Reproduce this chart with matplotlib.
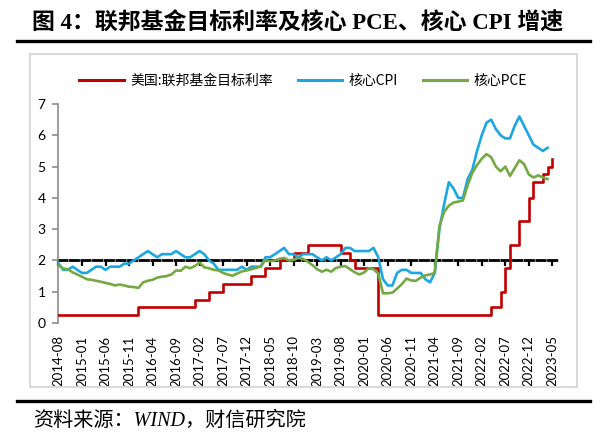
import matplotlib
matplotlib.use('Agg')
import matplotlib.pyplot as plt
import numpy as np
import pandas as pd
from matplotlib.patches import Rectangle
from matplotlib.lines import Line2D

# ---------------- data ----------------
months = pd.period_range('2014-08', '2023-05', freq='M').strftime('%Y-%m').tolist()

tick_labels = ['2014-08', '2015-01', '2015-06', '2015-11', '2016-04', '2016-09',
               '2017-02', '2017-07', '2017-12', '2018-05', '2018-10', '2019-03',
               '2019-08', '2020-01', '2020-06', '2020-11', '2021-04', '2021-09',
               '2022-02', '2022-07', '2022-12', '2023-05']

# 美国:联邦基金目标利率 (upper bound, %)
fed_rate = [0.25, 0.25, 0.25, 0.25, 0.25,
            0.25, 0.25, 0.25, 0.25, 0.25, 0.25, 0.25, 0.25, 0.25, 0.25, 0.25, 0.25,
            0.5, 0.5, 0.5, 0.5, 0.5, 0.5, 0.5, 0.5, 0.5, 0.5, 0.5, 0.5,
            0.75, 0.75, 0.75, 1.0, 1.0, 1.0, 1.25, 1.25, 1.25, 1.25, 1.25, 1.25,
            1.5, 1.5, 1.5, 1.75, 1.75, 1.75, 2.0, 2.0, 2.0, 2.25, 2.25, 2.25,
            2.5, 2.5, 2.5, 2.5, 2.5, 2.5, 2.5, 2.25, 2.25, 2.0, 1.75, 1.75,
            1.75, 1.75, 1.75, 0.25, 0.25, 0.25, 0.25, 0.25, 0.25, 0.25, 0.25, 0.25,
            0.25, 0.25, 0.25, 0.25, 0.25, 0.25, 0.25, 0.25, 0.25, 0.25, 0.25, 0.25,
            0.25, 0.25, 0.25, 0.5, 0.5, 1.0, 1.75, 2.5, 2.5, 3.25, 3.25, 4.0,
            4.5, 4.5, 4.75, 5.0, 5.25]

# 核心CPI (%)
core_cpi = [1.9, 1.7, 1.7, 1.8, 1.7,
            1.6, 1.6, 1.7, 1.8, 1.8, 1.7, 1.8, 1.8, 1.8, 1.9, 1.9, 2.0,
            2.1, 2.2, 2.3, 2.2, 2.1, 2.2, 2.2, 2.2, 2.3, 2.2, 2.1, 2.1,
            2.2, 2.3, 2.2, 2.0, 1.9, 1.7, 1.7, 1.7, 1.7, 1.7, 1.8, 1.7,
            1.8, 1.8, 1.8, 2.1, 2.1, 2.2, 2.3, 2.4, 2.2, 2.2, 2.1, 2.2,
            2.2, 2.2, 2.1, 2.0, 2.1, 2.0, 2.1, 2.2, 2.4, 2.4, 2.3, 2.3,
            2.3, 2.3, 2.4, 2.1, 1.4, 1.2, 1.2, 1.6, 1.7, 1.7, 1.6, 1.6,
            1.6, 1.4, 1.3, 1.6, 3.0, 3.8, 4.5, 4.3, 4.0, 4.0, 4.6, 4.9,
            5.5, 6.0, 6.4, 6.5, 6.2, 6.0, 5.9, 5.9, 6.3, 6.6, 6.3, 6.0,
            5.7, 5.6, 5.5, 5.6]

# 核心PCE (%)
core_pce = [1.85, 1.74, 1.72, 1.62, 1.55,
            1.48, 1.40, 1.38, 1.35, 1.32, 1.28, 1.25, 1.20, 1.23, 1.20, 1.16, 1.15,
            1.12, 1.30, 1.35, 1.38, 1.45, 1.48, 1.50, 1.55, 1.68, 1.67, 1.80, 1.75,
            1.82, 1.93, 1.78, 1.75, 1.70, 1.68, 1.60, 1.55, 1.51, 1.58, 1.65, 1.68,
            1.72, 1.76, 1.80, 2.02, 1.97, 2.00, 2.05, 2.08, 2.00, 2.02, 2.08, 2.05,
            1.96, 1.85, 1.72, 1.64, 1.70, 1.64, 1.76, 1.80, 1.82, 1.72, 1.62, 1.55,
            1.62, 1.75, 1.72, 1.58, 0.95, 0.95, 0.97, 1.10, 1.24, 1.42, 1.36, 1.35,
            1.45, 1.52, 1.55, 1.60, 3.10, 3.55, 3.75, 3.85, 3.88, 3.92, 4.40, 4.80,
            5.05, 5.25, 5.40, 5.30, 5.00, 4.85, 5.00, 4.70, 4.95, 5.20, 5.08, 4.75,
            4.65, 4.72, 4.65, 4.60]

labels = ['美国:联邦基金目标利率', '核心CPI', '核心PCE']
colors = ['#C00000', '#1CA6E2', '#74A944']
title = '图 4：联邦基金目标利率及核心 PCE、核心 CPI 增速'
source = '资料来源：WIND，财信研究院'

# ---------------- figure ----------------
W, H = 607, 443
fig = plt.figure(figsize=(W / 100, H / 100), dpi=100)
fig.patch.set_facecolor('white')

x = np.arange(len(months))
ax = fig.add_axes([58 / W, 120 / H, 499 / W, 219 / H])

lw = 1.9
ax.plot(x, fed_rate, drawstyle='steps-post', color=colors[0], lw=lw, zorder=3)
ax.plot(x[:len(core_cpi)], core_cpi, color=colors[1], lw=lw, zorder=4)
ax.plot(x[:len(core_pce)], core_pce, color=colors[2], lw=lw, zorder=5)

ax.set_xlim(-0.1, 106)
ax.set_ylim(0, 7)

for s in ['top', 'right', 'bottom']:
    ax.spines[s].set_visible(False)
ax.spines['left'].set_color('#8C8C8C')
ax.spines['left'].set_linewidth(1.2)

num_font = ['Lato', 'DejaVu Sans']
ax.set_yticks(range(0, 8))
ax.set_yticklabels([str(v) for v in range(0, 8)], fontfamily=num_font, fontsize=10)
ax.tick_params(axis='y', direction='out', length=4, width=1.2, color='#8C8C8C', pad=5)

ax.set_xticks(x[::5])
ax.set_xticklabels(tick_labels, rotation=90, fontfamily=num_font, fontsize=9.5)
ax.tick_params(axis='x', length=0, pad=9)

# horizontal axis crossing at 2 (dashed, with tick marks)
sec = ax.secondary_xaxis(2 / 7)
sec.set_xticks(x[::5])
sec.tick_params(axis='x', direction='out', length=4, width=1.6, color='black',
                labelbottom=False, labeltop=False)
sec.spines['bottom'].set_linestyle((0, (3, 1.2)))
sec.spines['bottom'].set_linewidth(2)
sec.spines['bottom'].set_color('black')
sec.spines['top'].set_visible(False)

# legend
handles = [Line2D([], [], color=c, lw=2.2) for c in colors]
fig.legend(handles, labels, loc='center', bbox_to_anchor=(303 / W, 1 - 81 / H),
           ncol=3, frameon=False, prop={'family': ['Noto Sans CJK SC'], 'size': 10},
           handlelength=3.2, handletextpad=0.45, columnspacing=1.8)

# chart frame
fig.patches.append(Rectangle((30 / W, 1 - 387 / H), (577 - 30) / W, (387 - 54) / H,
                             transform=fig.transFigure, fill=False,
                             edgecolor='#D9D9D9', lw=1.5))

# title and rules
fig.text(32 / W, 1 - 23 / H, title, fontsize=16.5, fontweight='bold',
         family=['Liberation Serif', 'Noto Sans CJK SC'], va='center', ha='left')
fig.add_artist(Line2D([17 / W, 590 / W], [1 - 41 / H] * 2, color='black', lw=2.4,
                      transform=fig.transFigure))
fig.add_artist(Line2D([17 / W, 590 / W], [1 - 401 / H] * 2, color='black', lw=2.4,
                      transform=fig.transFigure))
fig.text(33 / W, 1 - 421 / H, source, fontsize=14.5, style='italic',
         family=['Liberation Serif', 'Noto Sans CJK SC'], va='center', ha='left')

fig.savefig('out.png', dpi=100)
